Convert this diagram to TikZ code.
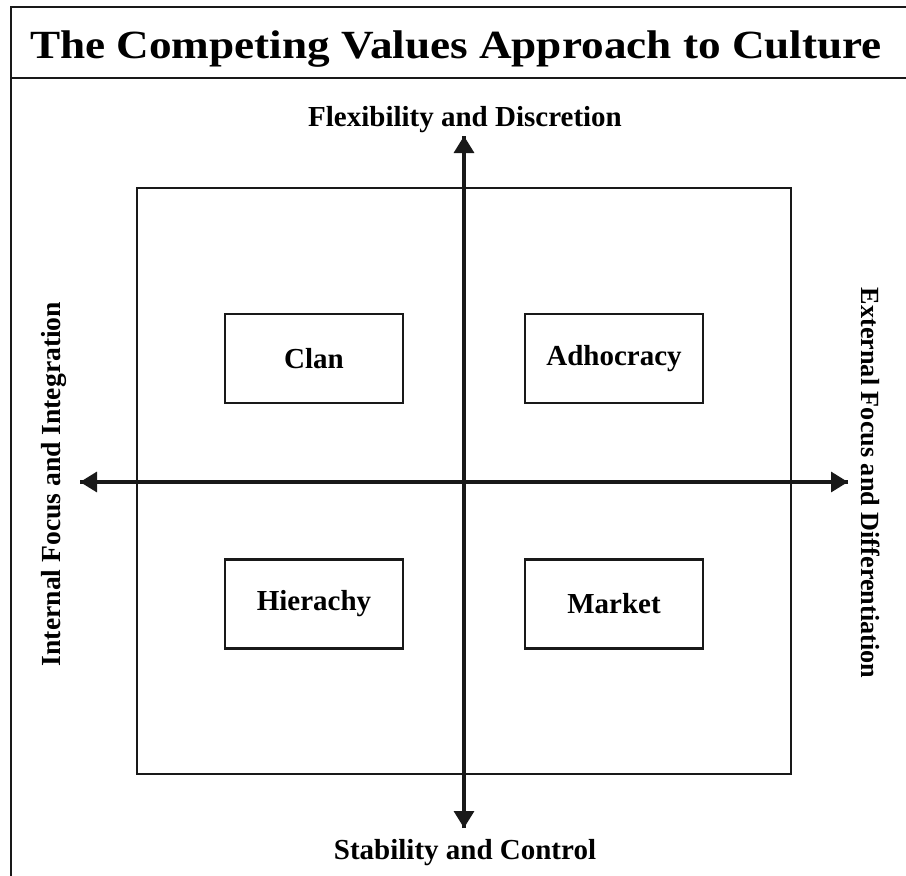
\documentclass[tikz,border=0pt]{standalone}
\usepackage{fontspec}
\setmainfont{Liberation Serif}
\usetikzlibrary{arrows.meta}
\begin{document}
\begin{tikzpicture}[x=1pt,y=-1pt,
  frameline/.style={line width=2.4pt,draw=black!90},
  quadbox/.style={draw=black!90,line width=2.6pt,minimum width=178pt,minimum height=89pt,inner sep=0pt,
    font=\bfseries\fontsize{29}{32}\selectfont},
  axislabel/.style={font=\bfseries\fontsize{29}{32}\selectfont,inner sep=0pt},
  axisline/.style={line width=3.2pt,draw=black!90,-{Triangle[length=17pt,width=20pt]}}]
\useasboundingbox (0,0) rectangle (906,876);
\fill[white] (0,0) rectangle (906,876);
% outer frame
\coordinate (ftr) at (907,7);
\coordinate (ftl) at (11,7);
\coordinate (fbl) at (11,877);
\coordinate (sepl) at (11,78);
\coordinate (sepr) at (907,78);
\draw[frameline] (ftr) -- (ftl) -- (fbl);
\draw[frameline] (sepl) -- (sepr);
\node[inner sep=0pt,anchor=base] (title) at (456,58)
  {\scalebox{1.13}[1]{\bfseries\fontsize{40}{44}\selectfont The Competing Values Approach to Culture}};
% main square
\node[draw=black!90,line width=2.6pt,minimum width=654pt,minimum height=586pt,inner sep=0pt] (sq) at (464,481) {};
% quadrant boxes
\node[quadbox] (clan) at (314,358.5) {Clan};
\node[quadbox] (adho) at (614,358.5) {Adhocracy};
\node[quadbox] (hier) at (314,604) {Hierachy};
\node[quadbox] (mark) at (614,604) {Market};
% axes
\coordinate (ctop) at (464,136);
\coordinate (cbot) at (464,828);
\coordinate (cleft) at (80,482);
\coordinate (cright) at (848,482);
\draw[axisline] (cbot) -- (ctop);
\draw[axisline] (ctop) -- (cbot);
\draw[axisline] (cright) -- (cleft);
\draw[axisline] (cleft) -- (cright);
% axis labels
\node[axislabel,anchor=base] (flex) at (465,126) {Flexibility and Discretion};
\node[axislabel,anchor=base] (stab) at (465,859) {Stability and Control};
\node[axislabel,anchor=base,rotate=90,font=\bfseries\fontsize{27.6}{30}\selectfont] (intl) at (60,484) {Internal Focus and Integration};
\node[axislabel,anchor=base,rotate=-90,font=\bfseries\fontsize{26.2}{30}\selectfont] (extl) at (861,483) {External Focus and Differentiation};
\end{tikzpicture}
\end{document}
